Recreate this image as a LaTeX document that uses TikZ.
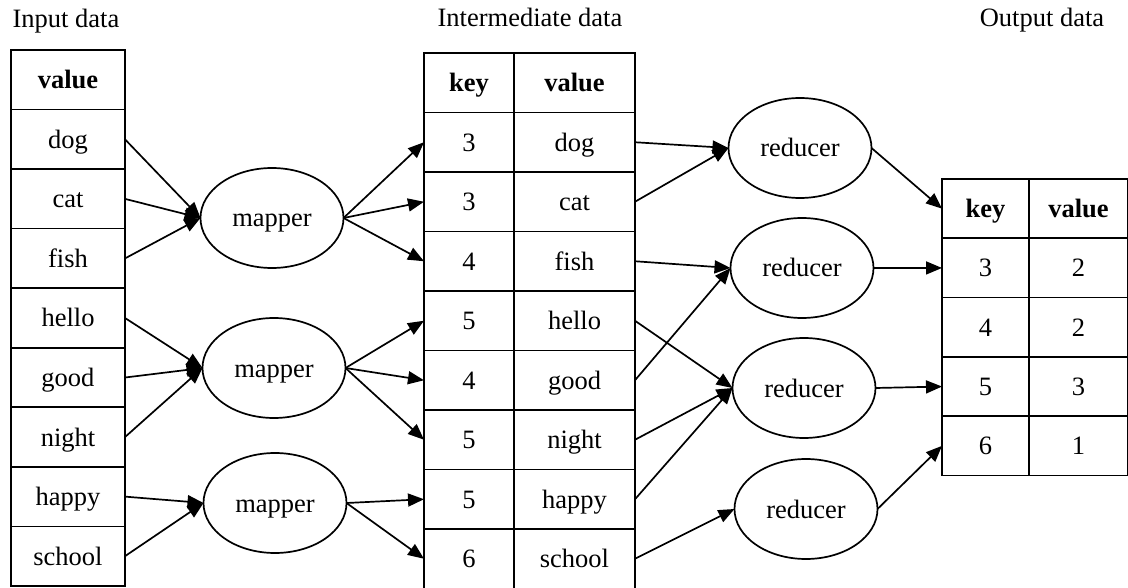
\documentclass[tikz,border=0pt]{standalone}
\usepackage{fontspec}
\setmainfont{Liberation Serif}
\usetikzlibrary{shapes.geometric,arrows.meta}
\begin{document}
\begin{tikzpicture}[x=1pt,y=-1pt,
  font=\fontsize{26.5}{30}\selectfont,
  cell/.style={draw, line width=1.7pt, rectangle, inner sep=0pt, outer sep=0pt,
    text height=22pt, text depth=4pt},
  incell/.style={cell, minimum width=114pt, minimum height=59.55pt},
  keycell/.style={cell, minimum width=90pt, minimum height=59.5pt},
  valcell/.style={cell, minimum width=121pt, minimum height=59.5pt},
  okcell/.style={cell, minimum width=87pt, minimum height=59.3pt},
  ovcell/.style={cell, minimum width=99pt, minimum height=59.3pt},
  worker/.style={draw, ellipse, line width=1.7pt, inner sep=0pt, outer sep=0pt,
    minimum width=143pt, minimum height=100pt, text height=22pt, text depth=4pt},
  flow/.style={line width=1.7pt, -{Triangle[length=16pt,width=13pt]}},
  title/.style={anchor=base, inner sep=0pt}]
\useasboundingbox (0,0) rectangle (1128,588);

% column titles
\node[title] (tin)  at (66,28)   {Input data};
\node[title] (tmid) at (530,27)  {Intermediate data};
\node[title] (tout) at (1042,27) {Output data};

% input table
\node[incell] (inh) at (68,{50+59.55*0.5}) {\textbf{value}};
\foreach \w [count=\i] in {dog,cat,fish,hello,good,night,happy,school}
  \node[incell] (in\i) at (68,{50+59.55*(\i+0.5)}) {\w};

% intermediate table
\node[keycell] (ikh) at (469,{53+59.5*0.5})   {\textbf{key}};
\node[valcell] (ivh) at (574.5,{53+59.5*0.5}) {\textbf{value}};
\foreach \k/\w [count=\i] in {3/dog,3/cat,4/fish,5/hello,4/good,5/night,5/happy,6/school}{
  \node[keycell] (ik\i) at (469,{53+59.5*(\i+0.5)})   {\k};
  \node[valcell] (iv\i) at (574.5,{53+59.5*(\i+0.5)}) {\w};
}

% output table
\node[okcell] (okh) at (985.5,{179+59.3*0.5})  {\textbf{key}};
\node[ovcell] (ovh) at (1078.5,{179+59.3*0.5}) {\textbf{value}};
\foreach \k/\v [count=\i] in {3/2,4/2,5/3,6/1}{
  \node[okcell] (ok\i) at (985.5,{179+59.3*(\i+0.5)})  {\k};
  \node[ovcell] (ov\i) at (1078.5,{179+59.3*(\i+0.5)}) {\v};
}

% mappers and reducers
\node[worker] (m1) at (272,218) {mapper};
\node[worker] (m2) at (274,368) {mapper};
\node[worker] (m3) at (275,503) {mapper};
\node[worker] (r1) at (800,148) {reducer};
\node[worker] (r2) at (802,268) {reducer};
\node[worker] (r3) at (804,388) {reducer};
\node[worker] (r4) at (806,509) {reducer};

% input -> mappers
\foreach \i in {1,2,3} \draw[flow] (in\i.east) -- (m1.west);
\foreach \i in {4,5,6} \draw[flow] (in\i.east) -- (m2.west);
\foreach \i in {7,8}   \draw[flow] (in\i.east) -- (m3.west);

% mappers -> intermediate
\foreach \i in {1,2,3} \draw[flow] (m1.east) -- (ik\i.west);
\foreach \i in {4,5,6} \draw[flow] (m2.east) -- (ik\i.west);
\foreach \i in {7,8}   \draw[flow] (m3.east) -- (ik\i.west);

% intermediate -> reducers
\foreach \i in {1,2}   \draw[flow] (iv\i.east) -- (r1.west);
\foreach \i in {3,5}   \draw[flow] (iv\i.east) -- (r2.west);
\foreach \i in {4,6,7} \draw[flow] (iv\i.east) -- (r3.west);
\draw[flow] (iv8.east) -- (r4.west);

% reducers -> output
\draw[flow] (r1.east) -- (okh.west);
\draw[flow] (r2.east) -- (ok1.west);
\draw[flow] (r3.east) -- (ok3.west);
\draw[flow] (r4.east) -- (ok4.west);
\end{tikzpicture}
\end{document}
